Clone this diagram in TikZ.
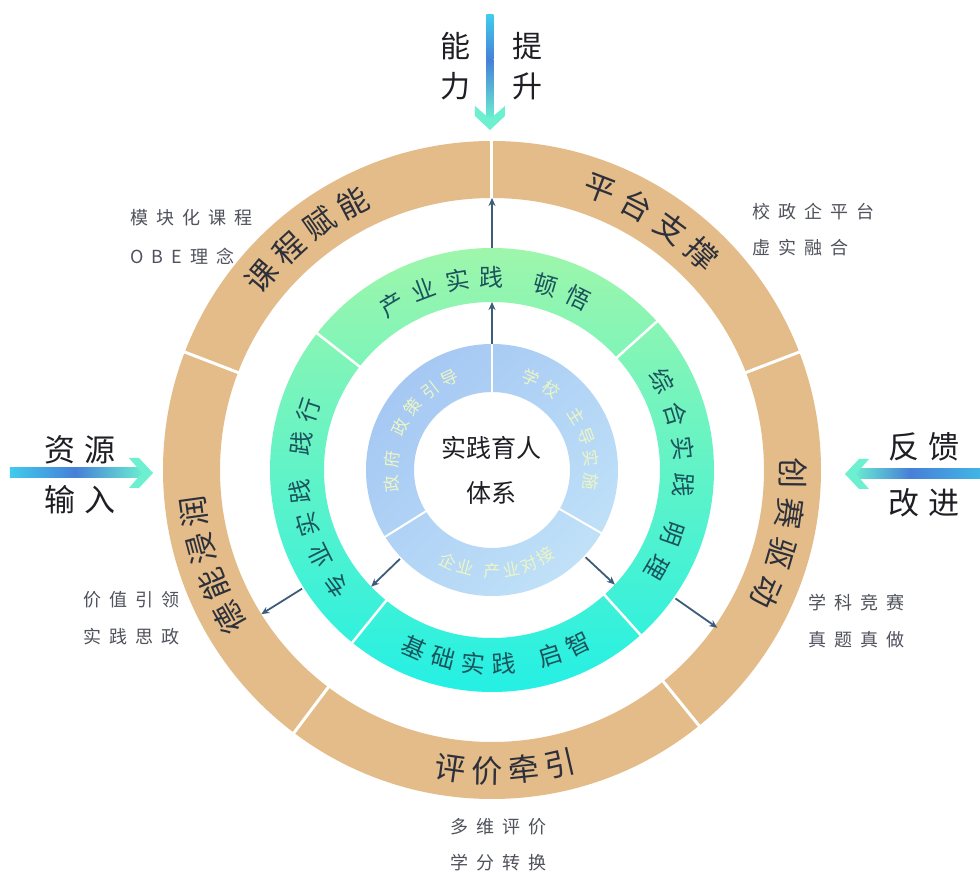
\documentclass[tikz,border=0pt]{standalone}
\usepackage{fontspec}
\setmainfont{Noto Sans CJK SC}
\usetikzlibrary{arrows.meta,shadings}
\definecolor{tanc}{RGB}{227,188,137}
\definecolor{grtop}{RGB}{158,246,170}
\definecolor{grbot}{RGB}{36,240,228}
\definecolor{blA}{RGB}{160,195,242}
\definecolor{blB}{RGB}{178,212,246}
\definecolor{blC}{RGB}{198,230,248}
\definecolor{tantext}{RGB}{45,48,58}
\definecolor{greentext}{RGB}{28,84,92}
\definecolor{bluetext}{RGB}{236,246,196}
\definecolor{sidetext}{RGB}{80,82,92}
\definecolor{bigtext}{RGB}{30,30,36}
\definecolor{connc}{RGB}{62,92,122}
\definecolor{cyanA}{RGB}{64,204,236}
\definecolor{blueA}{RGB}{70,128,216}
\definecolor{mintA}{RGB}{108,240,208}
\newcommand\arcword[5]{%
  \foreach \aa/\cc [count=\kk] in {#5}{%
    \node[#3, rotate={\aa#4}] (#1\kk) at (\aa:#2) {\cc};
  }}
\begin{document}
\begin{tikzpicture}[x=1pt,y=1pt,
  tanch/.style={font=\fontsize{31}{31}\selectfont, text=tantext, inner sep=0pt},
  grch/.style={font=\fontsize{24}{24}\selectfont, text=greentext, inner sep=0pt},
  blch/.style={font=\fontsize{17}{17}\selectfont, text=bluetext, inner sep=0pt},
  side/.style={font=\fontsize{18}{18}\selectfont\addfontfeature{LetterSpace=45}, text=sidetext, inner sep=0pt, anchor=west},
  big/.style={font=\fontsize{31}{31}\selectfont\addfontfeature{LetterSpace=30}, text=bigtext, inner sep=0pt},
  bigv/.style={font=\fontsize{30}{30}\selectfont, text=bigtext, inner sep=0pt},
  centre/.style={font=\fontsize{25}{25}\selectfont, text=bigtext, inner sep=0pt},
  conn/.style={draw=connc, line width=1.8pt, -{Stealth[length=8pt,width=7pt]}},
  divider/.style={draw=white, line width=3pt},
  chev/.style={fill=mintA}
]
\useasboundingbox (-492,-405) rectangle (488,470);
\fill[white] (-492,-405) rectangle (488,470);

% rings
\fill[tanc, even odd rule] (0,0) circle[radius=329] (0,0) circle[radius=272];
\shade[top color=grtop, bottom color=grbot, even odd rule] (0,0) circle[radius=222] (0,0) circle[radius=168];
\shade[upper left=blA, upper right=blB, lower left=blB, lower right=blC, even odd rule] (0,0) circle[radius=126] (0,0) circle[radius=78];

% dividers
\foreach \t in {21,90,159,233,309} \draw[divider] (\t:270) -- (\t:331);
\foreach \t in {42,142,231,312} \draw[divider, line width=2.5pt] (\t:166) -- (\t:224);
\foreach \t in {90,212,330} \draw[divider, line width=2pt] (\t:76) -- (\t:128);

% ring texts
\arcword{ka}{301}{tanch}{-90}{140/课,132.5/程,125/赋,117.5/能}
\arcword{pa}{301}{tanch}{-90}{69/平,61.3/台,53.6/支,45.9/撑}
\arcword{de}{301}{tanch}{-90}{209.5/德,202.3/能,195.1/浸,187.9/润}
\arcword{cs}{301}{tanch}{-90}{-0.6/创,-8.4/赛,-16.2/驱,-24/动}
\arcword{pj}{301}{tanch}{+90}{262/评,269/价,276/牵,283/引}

\arcword{cy}{193}{grch}{-90}{121/产,110.7/业,100.4/实,90.1/践,73.8/顿,63.5/悟}
\arcword{zh}{192}{grch}{-90}{27.5/综,17/合,6.5/实,-4.5/践,-19.5/明,-30.5/理}
\arcword{jc}{194}{grch}{+90}{246.5/基,255.5/础,264.5/实,273.5/践,287.5/启,296.5/智}
\arcword{zy}{193}{grch}{-90}{216.5/专,206.5/业,196.5/实,186.5/践,172/践,162/行}

\arcword{zf}{101}{blch}{-90}{188/政,174/府,155/政,141.5/策,128/引,115/导}
\arcword{xx}{100}{blch}{-90}{67/学,53.5/校,32.5/主,19.5/导,6.5/实,-6.5/施}
\arcword{qy}{101}{blch}{+90}{244/企,255/业,270/产,281/业,291.5/对,302/接}

% centre
\node[centre] (c1) at (0,22) {实践育人};
\node[centre] (c2) at (0,-23) {体系};

% connectors
\coordinate (bt) at (90:126); \coordinate (gi) at (90:168);
\coordinate (go) at (90:222); \coordinate (ti) at (90:272);
\draw[conn] (bt) -- (gi);
\draw[conn] (go) -- (ti);
\coordinate (bl1) at (224:128); \coordinate (gl1) at (224:168);
\coordinate (gl2) at (212:224); \coordinate (tl2) at (212:272);
\draw[conn] (bl1) -- (gl1);
\draw[conn] (gl2) -- (tl2);
\coordinate (br1) at (317:128); \coordinate (gr1) at (317:168);
\coordinate (gr2) at (325:224); \coordinate (tr2) at (325:275);
\draw[conn] (br1) -- (gr1);
\draw[conn] (gr2) -- (tr2);

% big arrows
% top
\shade[top color=cyanA, bottom color=blueA] (-5.5,455) rectangle (1.5,410);
\shade[top color=blueA, bottom color=mintA] (-5.5,410.2) rectangle (1.5,350);
\fill[chev, shift={(-2,340)}, rotate=-90] (0,0) -- (-14,15) -- (-24,15) -- (-11,0) -- (-24,-15) -- (-14,-15) -- cycle;
% left
\shade[left color=cyanA, right color=blueA] (-482,-8) rectangle (-417,2);
\shade[left color=blueA, right color=mintA] (-417.2,-8) rectangle (-347,2);
\fill[chev, shift={(-339,-3)}] (0,0) -- (-14,15) -- (-24,15) -- (-11,0) -- (-24,-15) -- (-14,-15) -- cycle;
% right
\shade[left color=blueA, right color=cyanA!70!blueA] (418,-9) rectangle (488,1);
\shade[left color=mintA, right color=blueA] (360,-9) rectangle (418.2,1);
\fill[chev, shift={(353,-4)}, rotate=180] (0,0) -- (-14,15) -- (-24,15) -- (-11,0) -- (-24,-15) -- (-14,-15) -- cycle;

% big labels
\node[bigv] (n1) at (-36,424) {能};
\node[bigv] (n2) at (-36,384) {力};
\node[bigv] (n3) at (35,424) {提};
\node[bigv] (n4) at (35,384) {升};
\node[big] (z1) at (-412,20) {资源};
\node[big] (z2) at (-412,-30) {输入};
\node[big] (f1) at (432,23) {反馈};
\node[big] (f2) at (432,-33) {改进};

% side texts
\node[side] (s1) at (-362,252) {模块化课程};
\node[side] (s2) at (-362,214) {OBE理念};
\node[side] (s3) at (260,258) {校政企平台};
\node[side] (s4) at (260,222) {虚实融合};
\node[side] (s5) at (-409,-130) {价值引领};
\node[side] (s6) at (-409,-167) {实践思政};
\node[side] (s7) at (316,-133) {学科竞赛};
\node[side] (s8) at (316,-170) {真题真做};
\node[side] (s9) at (-42,-357) {多维评价};
\node[side] (s10) at (-42,-393) {学分转换};
\end{tikzpicture}
\end{document}
